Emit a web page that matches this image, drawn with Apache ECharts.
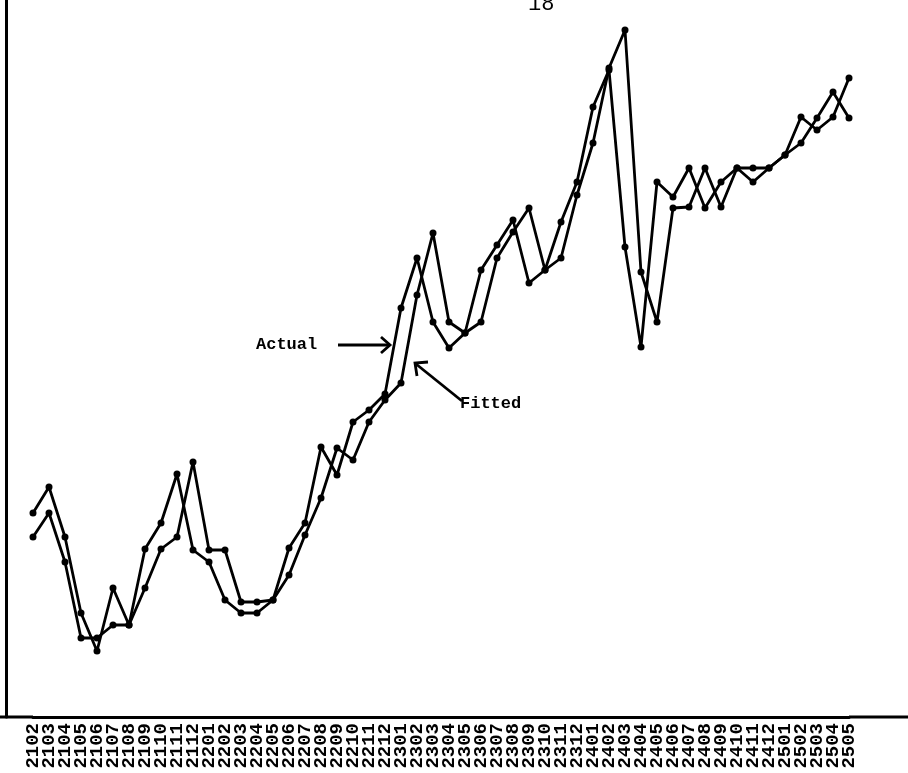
<!DOCTYPE html>
<html><head><meta charset="utf-8">
<script src="https://cdn.jsdelivr.net/npm/echarts@6/dist/echarts.min.js"></script>
<style>html,body{margin:0;padding:0;background:#fff}#c{width:908px;height:773px}</style>
</head><body><div id="c"></div>
<script>
const categories = ['2102','2103','2104','2105','2106','2107','2108','2109','2110','2111','2112',
  '2201','2202','2203','2204','2205','2206','2207','2208','2209','2210','2211','2212',
  '2301','2302','2303','2304','2305','2306','2307','2308','2309','2310','2311','2312',
  '2401','2402','2403','2404','2405','2406','2407','2408','2409','2410','2411','2412',
  '2501','2502','2503','2504','2505'];
const actualValues = [204,230,180,104,66,129,92,168,194,243,167,155,117,104,104,117,169,194,270,242,
  295,307,323,409,459,395,369,384,447,472,497,434,447,495,535,610,647,470,370,535,
  520,549,509,535,549,535,549,562,600,587,600,639];
const fittedValues = [180,204,155,79,79,92,92,129,168,180,255,167,167,115,115,117,142,182,219,269,
  257,295,317,334,422,484,395,384,395,459,485,509,447,459,522,574,649,687,445,395,
  509,510,549,510,549,549,549,562,574,599,625,599];
const seriesNames = ['Actual','Fitted'];

const chart = echarts.init(document.getElementById('c'), null, {renderer:'canvas'});
const lineStyle = {color:'#000', width:2.8};
const mono = "'Liberation Mono','DejaVu Sans Mono',monospace";
chart.setOption({
  animation:false,
  backgroundColor:'#fff',
  grid:{left:33,right:59,top:0,bottom:56,containLabel:false},
  xAxis:{type:'category',data:categories,boundaryGap:false,
    axisLine:{show:true,lineStyle:{color:'#000',width:3}},
    axisTick:{show:false},
    axisLabel:{rotate:90,margin:6,interval:0,color:'#000',fontFamily:mono,fontWeight:'bold',fontSize:19},
    splitLine:{show:false}},
  yAxis:{type:'value',min:0,max:717,offset:27,
    axisLine:{show:true,lineStyle:{color:'#000',width:3}},
    axisTick:{show:false},axisLabel:{show:false},splitLine:{show:false}},
  series:[
    {name:seriesNames[0],type:'line',data:actualValues,symbol:'circle',symbolSize:7,
     itemStyle:{color:'#000'},lineStyle:lineStyle},
    {name:seriesNames[1],type:'line',data:fittedValues,symbol:'circle',symbolSize:7,
     itemStyle:{color:'#000'},lineStyle:lineStyle}
  ],
  graphic:[
    {type:'line',shape:{x1:0,y1:717,x2:33,y2:717},style:{stroke:'#000',lineWidth:3}},
    {type:'line',shape:{x1:849,y1:717,x2:908,y2:717},style:{stroke:'#000',lineWidth:3}},
    {type:'text',left:528,top:-7,style:{text:'18',font:"22px "+mono,fill:'#000'}},
    {type:'text',x:256,y:345,style:{text:'Actual',font:"bold 17px "+mono,fill:'#000',verticalAlign:'middle'}},
    {type:'line',shape:{x1:338,y1:345,x2:390,y2:345},style:{stroke:'#000',lineWidth:2.8}},
    {type:'polyline',shape:{points:[[381,337],[390,345],[381,353]]},style:{stroke:'#000',lineWidth:2.8,fill:null}},
    {type:'text',x:460,y:404,style:{text:'Fitted',font:"bold 17px "+mono,fill:'#000',verticalAlign:'middle'}},
    {type:'line',shape:{x1:462,y1:401,x2:416,y2:364},style:{stroke:'#000',lineWidth:2.8}},
    {type:'polyline',shape:{points:[[417,376],[415,363],[428,362]]},style:{stroke:'#000',lineWidth:2.8,fill:null}}
  ]
});
</script></body></html>
